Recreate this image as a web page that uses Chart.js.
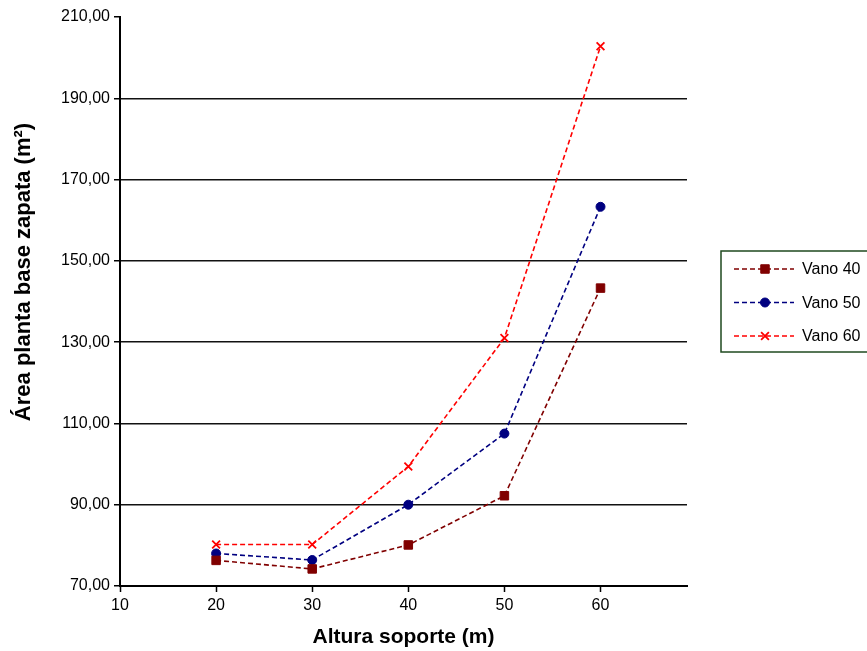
<!DOCTYPE html>
<html>
<head>
<meta charset="utf-8">
<script src="https://cdn.jsdelivr.net/npm/chart.js@4"></script>
<style>
  body { margin: 0; background: #fff; }
  #wrap { width: 867px; height: 651px; position: relative; }
</style>
</head>
<body>
<div id="wrap"><canvas id="zapataChart"></canvas></div>
<script>
// Datos
const alturas = [20, 30, 40, 50, 60];
const vano40 = [76.3, 74.2, 80.1, 92.2, 143.3];
const vano50 = [78.0, 76.4, 90.0, 107.5, 163.3];
const vano60 = [80.2, 80.2, 99.4, 131.0, 202.8];
const xTicks = [10, 20, 30, 40, 50, 60];
const yTicks = [70, 90, 110, 130, 150, 170, 190, 210];
const tituloY = 'Área planta base zapata (m²)';

function toPoints(values) {
  return alturas.map((x, i) => ({ x: x, y: values[i] }));
}

// Título vertical (Excel lo coloca algo por encima del centro)
const yTitle = {
  id: 'yTitle',
  afterDraw(chart) {
    const c = chart.ctx;
    c.save();
    c.translate(24, 272);
    c.rotate(-Math.PI / 2);
    c.fillStyle = '#000';
    c.font = 'bold 22px "Liberation Sans", Arial, sans-serif';
    c.textAlign = 'center';
    c.textBaseline = 'middle';
    c.fillText(tituloY, 0, 0);
    c.restore();
  }
};

// Leyenda con recuadro, a la derecha (el borde derecho queda fuera de la imagen)
const boxLegend = {
  id: 'boxLegend',
  afterDraw(chart) {
    const c = chart.ctx;
    const left = 721, top = 251, w = 160, h = 101;
    c.save();
    c.strokeStyle = '#1f4a1f';
    c.lineWidth = 1.5;
    c.strokeRect(left, top, w, h);
    chart.data.datasets.forEach((ds, i) => {
      const y = 269 + i * 33.5;
      c.strokeStyle = ds.borderColor;
      c.fillStyle = ds.borderColor;
      c.lineWidth = ds.borderWidth;
      c.setLineDash(ds.borderDash);
      c.beginPath();
      c.moveTo(734, y);
      c.lineTo(794, y);
      c.stroke();
      c.setLineDash([]);
      c.lineWidth = ds.pointBorderWidth;
      Chart.helpers.drawPoint(c, {
        pointStyle: ds.pointStyle,
        radius: ds.pointRadius,
        borderWidth: ds.pointBorderWidth
      }, 765, y);
      c.fillStyle = '#000';
      c.font = '16px "Liberation Sans", Arial, sans-serif';
      c.textBaseline = 'middle';
      c.fillText(ds.label, 802, y + 1);
    });
    c.restore();
  }
};

function serie(label, values, color, style, radius) {
  return {
    label: label,
    data: toPoints(values),
    borderColor: color,
    backgroundColor: color,
    pointBackgroundColor: color,
    pointBorderColor: color,
    pointStyle: style,
    pointRadius: radius,
    pointBorderWidth: style === 'crossRot' ? 1.8 : 1,
    borderWidth: 1.6,
    borderDash: [5, 3],
    showLine: true,
    fill: false
  };
}

document.addEventListener('DOMContentLoaded', function () {
  Chart.defaults.font.family = '"Liberation Sans", Arial, sans-serif';
  Chart.defaults.color = '#000';
  const ctx = document.getElementById('zapataChart').getContext('2d');
  new Chart(ctx, {
    type: 'scatter',
    data: {
      datasets: [
        serie('Vano 40', vano40, '#800000', 'rect', 6),
        serie('Vano 50', vano50, '#000080', 'circle', 4.5),
        serie('Vano 60', vano60, '#ff0000', 'crossRot', 5.5)
      ]
    },
    options: {
      responsive: true,
      maintainAspectRatio: false,
      animation: false,
      layout: { padding: { left: 0, top: 17, right: 180, bottom: 0 } },
      plugins: {
        legend: { display: false },
        tooltip: { enabled: false }
      },
      scales: {
        x: {
          type: 'linear',
          min: 10,
          max: 69,
          afterBuildTicks: s => { s.ticks = xTicks.map(v => ({ value: v })); },
          afterFit: s => { s.height = 65; },
          ticks: { font: { size: 16 }, padding: 4, maxRotation: 0 },
          grid: { drawOnChartArea: false, tickLength: 6, tickColor: '#000', tickWidth: 1.5 },
          border: { color: '#000', width: 2 },
          title: {
            display: true,
            text: 'Altura soporte (m)',
            font: { size: 21, weight: 'bold' },
            padding: { top: 2, bottom: 1 }
          }
        },
        y: {
          min: 70,
          max: 210,
          afterBuildTicks: s => { s.ticks = yTicks.map(v => ({ value: v })); },
          afterFit: s => { s.width = 120; },
          ticks: {
            font: { size: 16 },
            padding: 4,
            callback: v => v.toFixed(2).replace('.', ',')
          },
          grid: {
            color: c => (c.tick && c.tick.value === 210) ? 'rgba(0,0,0,0)' : '#111',
            lineWidth: 1.5,
            tickLength: 6,
            tickColor: '#000',
            tickWidth: 1.5
          },
          border: { color: '#000', width: 2 }
        }
      }
    },
    plugins: [yTitle, boxLegend]
  });
});
</script>
</body>
</html>
